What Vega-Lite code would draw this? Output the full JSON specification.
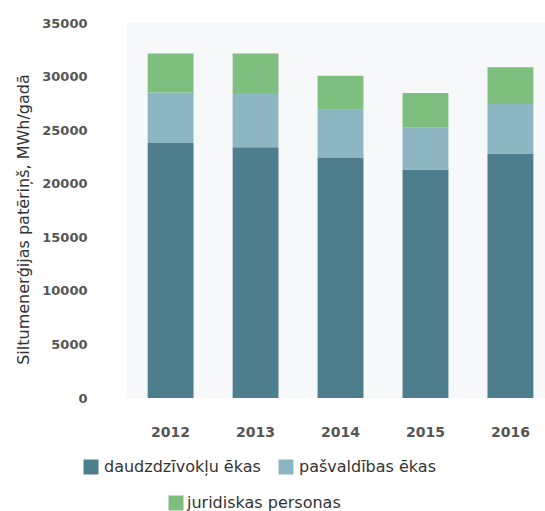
{
  "$schema": "https://vega.github.io/schema/vega-lite/v6.json",
  "width": 418,
  "height": 375,
  "autosize": "none",
  "padding": {"left": 127, "top": 23, "right": 0, "bottom": 113},
  "background": "white",
  "config": {
    "view": {"fill": "#f7f8f9", "stroke": null},
    "font": "DejaVu Sans"
  },
  "data": {
    "values": [
      {"year": "2012", "category": "daudzdzīvokļu ēkas", "value": 23810},
      {"year": "2012", "category": "pašvaldības ēkas", "value": 4710},
      {"year": "2012", "category": "juridiskas personas", "value": 3630},
      {"year": "2013", "category": "daudzdzīvokļu ēkas", "value": 23400},
      {"year": "2013", "category": "pašvaldības ēkas", "value": 5060},
      {"year": "2013", "category": "juridiskas personas", "value": 3690},
      {"year": "2014", "category": "daudzdzīvokļu ēkas", "value": 22410},
      {"year": "2014", "category": "pašvaldības ēkas", "value": 4500},
      {"year": "2014", "category": "juridiskas personas", "value": 3160},
      {"year": "2015", "category": "daudzdzīvokļu ēkas", "value": 21320},
      {"year": "2015", "category": "pašvaldības ēkas", "value": 3940},
      {"year": "2015", "category": "juridiskas personas", "value": 3200},
      {"year": "2016", "category": "daudzdzīvokļu ēkas", "value": 22780},
      {"year": "2016", "category": "pašvaldības ēkas", "value": 4660},
      {"year": "2016", "category": "juridiskas personas", "value": 3440}
    ]
  },
  "transform": [
    {"stack": "value", "groupby": ["year"], "sort": [{"field": "value", "order": "descending"}], "as": ["v0", "v1"]}
  ],
  "encoding": {
    "x": {
      "field": "year", "type": "ordinal",
      "scale": {"paddingInner": 0.46, "paddingOuter": 0.19, "align": 0.64},
      "axis": {"title": null, "labelAngle": 0, "domain": false, "ticks": false, "labelPadding": 27, "labelDx": -6, "labelFontSize": 14, "labelColor": "#555555", "labelFontWeight": "bold"}
    },
    "y": {
      "field": "v1", "type": "quantitative",
      "scale": {"domain": [0, 35000], "nice": false},
      "axis": {
        "title": "Siltumenerģijas patēriņš, MWh/gadā",
        "titleFontSize": 16, "titleFontWeight": "normal", "titleColor": "#333333", "titlePadding": 10, "titleY": 196,
        "values": [0, 5000, 10000, 15000, 20000, 25000, 30000, 35000],
        "format": "d",
        "domain": false, "ticks": false, "grid": false,
        "labelPadding": 40, "labelFontSize": 13, "labelColor": "#555555", "labelFontWeight": "bold"
      }
    },
    "y2": {"field": "v0"}
  },
  "layer": [
    {
      "transform": [{"filter": "datum.category != 'juridiskas personas'"}],
      "mark": {"type": "bar"},
      "encoding": {
        "color": {
          "field": "category", "type": "nominal",
          "scale": {"domain": ["daudzdzīvokļu ēkas", "pašvaldības ēkas"], "range": ["#4e7e8d", "#8eb5c2"]},
          "legend": {
            "title": null, "orient": "none", "legendX": -44, "legendY": 436, "direction": "horizontal",
            "padding": 0, "symbolType": "square", "symbolSize": 225, "symbolStrokeWidth": 0, "symbolOpacity": 1,
            "labelFontSize": 16, "labelColor": "#333333", "labelOffset": 5, "columnPadding": 17, "labelLimit": 300
          }
        }
      }
    },
    {
      "transform": [{"filter": "datum.category == 'juridiskas personas'"}],
      "mark": {"type": "bar"},
      "encoding": {
        "fill": {
          "field": "category", "type": "nominal",
          "scale": {"domain": ["juridiskas personas"], "range": ["#7ebf80"]},
          "legend": {
            "title": null, "orient": "none", "legendX": 41, "legendY": 472, "direction": "horizontal",
            "padding": 0, "symbolType": "square", "symbolSize": 225, "symbolStrokeWidth": 0, "symbolOpacity": 1,
            "labelFontSize": 16, "labelColor": "#333333", "labelOffset": 3, "labelLimit": 300
          }
        }
      }
    }
  ]
}
